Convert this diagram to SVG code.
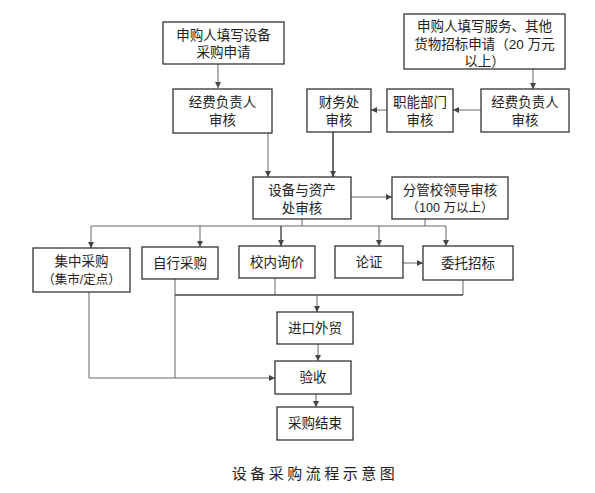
<svg xmlns="http://www.w3.org/2000/svg" width="595" height="493" viewBox="0 0 595 493">
<defs>
<marker id="ah" viewBox="0 0 10 10" refX="10" refY="5" markerWidth="6" markerHeight="6" markerUnits="userSpaceOnUse" orient="auto">
<path d="M0,0 L10,5 L0,10 z" fill="#444"/>
</marker>
</defs>
<style>
.box{fill:#fff;stroke:#333;stroke-width:1.3}
.t{font-family:"Liberation Sans","Noto Sans CJK SC",sans-serif;font-size:13.5px;fill:#222;text-anchor:middle}
.s{font-size:12.5px}
.c{fill:none;stroke:#666;stroke-width:1}
.ca{fill:none;stroke:#666;stroke-width:1;marker-end:url(#ah)}
.cap{font-family:"Liberation Serif","Noto Sans CJK SC",serif;font-size:15px;fill:#222;text-anchor:middle;letter-spacing:3.5px}
</style>
<rect width="595" height="493" fill="#fff"/>
<g id="connectors">
<path class="ca" d="M218,64 V88"/>
<path class="ca" d="M533,69 V89"/>
<path class="ca" d="M481,110 H453"/>
<path class="ca" d="M387,110 H371"/>
<path class="ca" d="M268,133 V177"/>
<path class="ca" d="M333,132 V177" style="stroke:#444;stroke-width:1.6"/>
<path class="ca" d="M351,197 H392"/>
<path class="c" d="M302,219 V226"/>
<path class="c" d="M425,219 V226"/>
<path class="c" d="M91,226 H446"/>
<path class="ca" d="M91,226 V248"/>
<path class="ca" d="M200,226 V247"/>
<path class="ca" d="M281,226 V246" style="stroke:#444;stroke-width:1.4"/>
<path class="ca" d="M379,226 V246"/>
<path class="ca" d="M446,226 V246"/>
<path class="ca" d="M403,263 H423"/>
<path class="c" d="M175,279 V378"/>
<path class="c" d="M275,278 V295"/>
<path class="c" d="M463,280 V295"/>
<path class="c" d="M175,295 H463" style="stroke:#444;stroke-width:1.3"/>
<path class="ca" d="M317,295 V312"/>
<path class="ca" d="M318,344 V361"/>
<path class="ca" d="M316,394 V407"/>
<path class="ca" d="M89,292 V378 H275"/>
</g>
<g id="n1"><rect class="box" x="163" y="22" width="121" height="42"/><text class="t" x="223.5" y="40">申购人填写设备</text><text class="t" x="223.5" y="57">采购申请</text></g>
<g id="n2"><rect class="box" x="404" y="14" width="161" height="55"/><text class="t" x="484.5" y="31">申购人填写服务、其他</text><text class="t" x="484.5" y="49">货物招标申请（20 万元</text><text class="t" x="484.5" y="66">以上）</text></g>
<g id="n3"><rect class="box" x="173" y="89" width="99" height="44"/><text class="t" x="222.5" y="107">经费负责人</text><text class="t" x="222.5" y="125">审核</text></g>
<g id="n4"><rect class="box" x="307" y="89" width="64" height="43"/><text class="t" x="339" y="107">财务处</text><text class="t" x="339" y="125">审核</text></g>
<g id="n5"><rect class="box" x="387" y="89" width="66" height="43"/><text class="t" x="420" y="107">职能部门</text><text class="t" x="420" y="125">审核</text></g>
<g id="n6"><rect class="box" x="481" y="89" width="88" height="43"/><text class="t" x="525" y="107">经费负责人</text><text class="t" x="525" y="125">审核</text></g>
<g id="n7"><rect class="box" x="253" y="177" width="98" height="42"/><text class="t" x="302" y="195">设备与资产</text><text class="t" x="302" y="213">处审核</text></g>
<g id="n8"><rect class="box" x="392" y="177" width="116" height="42"/><text class="t" x="450" y="195">分管校领导审核</text><text class="t s" x="450" y="212">（100 万以上）</text></g>
<g id="n9"><rect class="box" x="33" y="248" width="97" height="44"/><text class="t" x="81.5" y="266">集中采购</text><text class="t s" x="81.5" y="284">（集市/定点）</text></g>
<g id="n10"><rect class="box" x="142" y="247" width="76" height="32"/><text class="t" x="180" y="268">自行采购</text></g>
<g id="n11"><rect class="box" x="239" y="246" width="76" height="32"/><text class="t" x="277" y="267">校内询价</text></g>
<g id="n12"><rect class="box" x="335" y="246" width="68" height="32"/><text class="t" x="369" y="267">论证</text></g>
<g id="n13"><rect class="box" x="423" y="246" width="90" height="34"/><text class="t" x="468" y="268">委托招标</text></g>
<g id="n14"><rect class="box" x="277" y="312" width="76" height="32"/><text class="t" x="315" y="333">进口外贸</text></g>
<g id="n15"><rect class="box" x="275" y="361" width="76" height="33"/><text class="t" x="313" y="382">验收</text></g>
<g id="n16"><rect class="box" x="277" y="407" width="76" height="33"/><text class="t" x="315" y="428">采购结束</text></g>
<text class="cap" x="315" y="479">设备采购流程示意图</text>
</svg>
